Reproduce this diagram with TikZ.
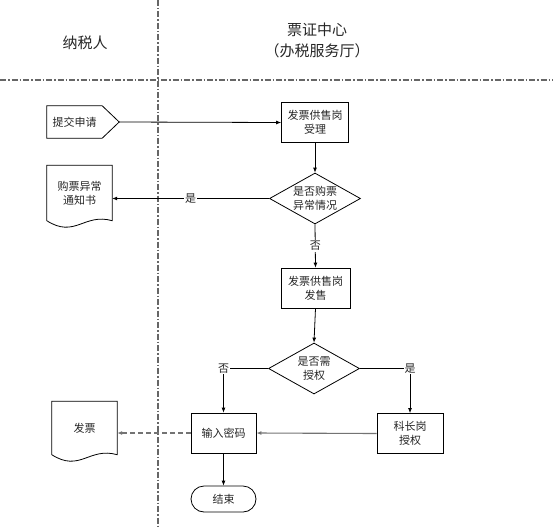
\documentclass[tikz,border=0pt]{standalone}
\usepackage{fontspec}
\setmainfont{Noto Sans CJK SC}
\usetikzlibrary{shapes.geometric,arrows.meta,calc}
\begin{document}
\begin{tikzpicture}[x=1pt,y=-1pt,
  font=\fontsize{11}{14}\selectfont,
  every node/.style={text=black!85},
  stepbox/.style={draw,line width=0.8pt,minimum width=67,minimum height=40,inner sep=0,align=center},
  decision/.style={draw,line width=0.8pt,diamond,aspect=1.8,minimum width=91,minimum height=51,inner sep=0,align=center},
  docbody/.style={minimum width=65,inner sep=0,align=center},
  endbox/.style={draw,line width=0.8pt,rounded corners=13,minimum width=65,minimum height=26,inner sep=0},
  arr/.style={line width=0.8pt,-{Latex[length=5pt,width=4pt]}},
  grayarr/.style={line width=1.1pt,draw=black!55,-{Latex[length=5pt,width=4pt]}},
  sep/.style={line width=1.1pt,draw=black!60,dash pattern=on 6pt off 2pt on 1.5pt off 2pt},
  lbl/.style={fill=white,inner sep=1pt},
  outline/.style={line width=0.8pt}
]
\useasboundingbox (0,0) rectangle (553,527);
% separators
\coordinate (vtop) at (158,0);
\coordinate (vbot) at (158,527);
\coordinate (hl) at (0,80);
\coordinate (hr) at (553,80);
\draw[sep] (vtop) -- (vbot);
\draw[sep] (hl) -- (hr);
% headers
\node[font=\fontsize{15}{21}\selectfont] (h1) at (85,43) {纳税人};
\node[font=\fontsize{15}{21}\selectfont,align=center] (h2) at (317,40) {票证中心\\（办税服务厅）};
% submit shape
\node[minimum width=55,minimum height=32,inner sep=0] (sub) at (74.5,122) {提交申请};
\coordinate (subtip) at ($(sub.east)+(17,0)$);
\draw[outline] (sub.north west) -- (sub.north east) -- (subtip) -- (sub.south east) -- (sub.south west) -- cycle;
% process nodes
\node[stepbox] (b1) at (315,122.5) {发票供售岗\\受理};
\node[decision] (d1) at (315,198.5) {是否购票\\异常情况};
\node[stepbox,minimum width=69] (b2) at (315.5,288) {发票供售岗\\发售};
\node[decision] (d2) at (314,368.5) {是否需\\授权};
\node[stepbox,minimum width=65] (inp) at (223.5,433) {输入密码};
\node[stepbox,minimum width=66] (kz) at (410,433.5) {科长岗\\授权};
\node[endbox] (end) at (223.5,499) {结束};
% documents
\node[docbody,minimum height=55] (doc1) at (79.5,193) {购票异常\\通知书};
\draw[outline] (doc1.south west) -- (doc1.north west) -- (doc1.north east) -- (doc1.south east)
  .. controls ($(doc1.south east)+(-28,-8)$) and ($(doc1.south west)+(28,18)$) .. cycle;
\node[docbody,minimum height=53] (fp) at (84.5,428) {发票};
\draw[outline] (fp.south west) -- (fp.north west) -- (fp.north east) -- (fp.south east)
  .. controls ($(fp.south east)+(-28,-8)$) and ($(fp.south west)+(28,18)$) .. cycle;
% connectors
\draw[arr] (subtip) -- (b1.west);
\draw[arr] (b1.south) -- (d1.north);
\draw[arr] (d1.west) -- node[lbl]{是} (d1.west -| doc1.east);
\draw[arr] (d1.south) -- node[lbl]{否} (b2.north);
\draw[arr] (b2.south) -- (d2.north);
\draw[arr] (d2.west) -- (d2.west -| inp.north) node[lbl]{否} -- (inp.north);
\draw[arr] (d2.east) -- (d2.east -| kz.north) node[lbl]{是} -- (kz.north);
\draw[grayarr] (kz.west) -- (inp.east);
\draw[arr] (inp.south) -- (end.north);
\draw[grayarr,dashed,dash pattern=on 5pt off 3pt] (inp.west) -- (inp.west -| fp.east);
\end{tikzpicture}
\end{document}
